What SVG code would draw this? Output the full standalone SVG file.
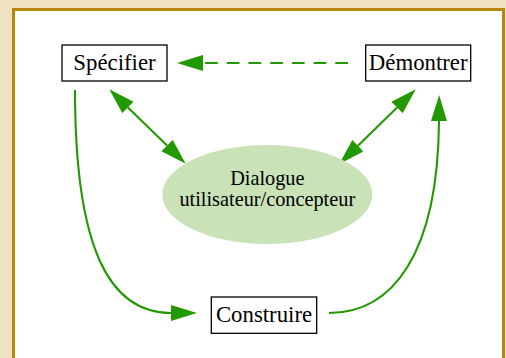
<svg xmlns="http://www.w3.org/2000/svg" width="506" height="358" viewBox="0 0 506 358">
<defs>
<style>
.box{fill:#ffffff;stroke:#000000;stroke-width:1.3}
.lbl{font-family:"Liberation Serif","Times New Roman",serif;font-size:22.8px;fill:#000000;text-anchor:middle}
.elbl{font-family:"Liberation Serif","Times New Roman",serif;font-size:20.3px;fill:#000000;text-anchor:middle}
.edge{fill:none;stroke:#229900;stroke-width:2.1}
</style>
<marker id="ah" markerUnits="userSpaceOnUse" markerWidth="28" markerHeight="18" refX="0" refY="8" orient="auto-start-reverse">
<path d="M0,0 L26,8 L0,16 z" fill="#229900"/>
</marker>
</defs>
<rect x="0" y="0" width="506" height="358" fill="#efe3c3"/>
<rect x="13.5" y="9.5" width="490" height="360" fill="#ffffff" stroke="#b8860b" stroke-width="3"/>
<g id="edges">
<path class="edge" d="M348,63 L203,63" stroke-dasharray="12.7 9" marker-end="url(#ah)"/>
<path class="edge" d="M127.9,107.4 L167.1,145.6" marker-start="url(#ah)" marker-end="url(#ah)"/>
<path class="edge" d="M397.1,107.5 L357.9,145.8" marker-start="url(#ah)" marker-end="url(#ah)"/>
<path class="edge" d="M75,90 C75,250 110,313 171,313" marker-end="url(#ah)"/>
<path class="edge" d="M329,313 C392,313 438,255 439,121" marker-end="url(#ah)"/>
</g>
<g id="specifier">
<rect class="box" x="62" y="45" width="105" height="36"/>
<text class="lbl" x="114.5" y="69.5">Spécifier</text>
</g>
<g id="demontrer">
<rect class="box" x="365.7" y="45" width="105" height="36"/>
<text class="lbl" x="418.2" y="69.5">Démontrer</text>
</g>
<g id="construire">
<rect class="box" x="211.3" y="297" width="105.4" height="36.3"/>
<text class="lbl" x="264" y="321.5">Construire</text>
</g>
<g id="dialogue">
<ellipse cx="267.3" cy="194.5" rx="105" ry="49.5" fill="#c9e2b8"/>
<text class="elbl" x="267.3" y="185.3">Dialogue</text>
<text class="elbl" x="267.3" y="206.3">utilisateur/concepteur</text>
</g>
</svg>
